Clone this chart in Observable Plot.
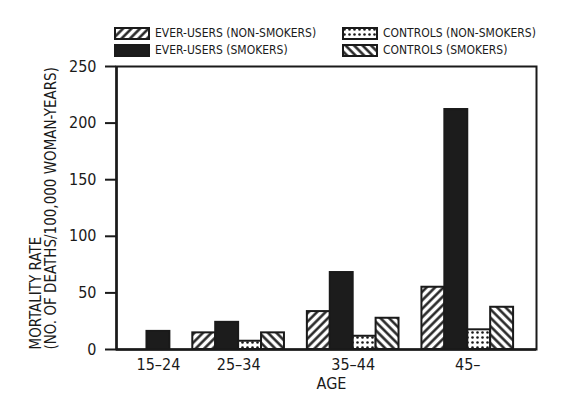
<!DOCTYPE html>
<html>
<head>
<meta charset="utf-8">
<script src="https://cdn.jsdelivr.net/npm/d3@7"></script>
<script src="https://cdn.jsdelivr.net/npm/@observablehq/plot@0.6"></script>
<style>
  body { margin: 0; background: #fff; font-family: "Liberation Sans Narrow", "DejaVu Sans Condensed", sans-serif; color: #1a1a1a; }
  #legend { position: relative; z-index: 1; width: 563px; height: 50px; }
  .item { position: absolute; display: flex; align-items: center; font-size: 12px; line-height: 13px; white-space: nowrap; }
  .item svg { margin-right: 5px; }
</style>
</head>
<body>
<svg width="0" height="0" style="position:absolute">
  <defs>
    <pattern id="hatchUp" patternUnits="userSpaceOnUse" width="6" height="6" patternTransform="rotate(45)">
      <rect width="6" height="6" fill="#fff"></rect>
      <line x1="1.5" y1="0" x2="1.5" y2="6" stroke="#1a1a1a" stroke-width="2.4"></line>
    </pattern>
    <pattern id="hatchDown" patternUnits="userSpaceOnUse" width="6" height="6" patternTransform="rotate(-45)">
      <rect width="6" height="6" fill="#fff"></rect>
      <line x1="1.5" y1="0" x2="1.5" y2="6" stroke="#1a1a1a" stroke-width="2.4"></line>
    </pattern>
    <pattern id="dots" patternUnits="userSpaceOnUse" width="5" height="5">
      <rect width="5" height="5" fill="#fff"></rect>
      <circle cx="2.5" cy="2.5" r="1.3" fill="#1a1a1a"></circle>
    </pattern>
  </defs>
</svg>
<div id="legend"></div>
<div id="chart"></div>
<script>
const ages = ["15–24", "25–34", "35–44", "45–"]
const series = ["EVER-USERS (NON-SMOKERS)", "EVER-USERS (SMOKERS)", "CONTROLS (NON-SMOKERS)", "CONTROLS (SMOKERS)"]
const everNonSmokers = [0, 14.7, 33.5, 55]
const everSmokers = [16, 24, 68, 212]
const controlNonSmokers = [0, 7.3, 11.7, 17.4]
const controlSmokers = [0, 14.7, 27.6, 37.3]
const yTicks = [0, 50, 100, 150, 200, 250]

const fills = ["url(#hatchUp)", "#1c1c1c", "url(#dots)", "url(#hatchDown)"]
const values = [everNonSmokers, everSmokers, controlNonSmokers, controlSmokers]

// bars sit side by side, zero bars are left out, one empty slot between groups
let slot = 0
const rows = []
const centers = []
ages.forEach((age, i) => {
  slot++
  const first = slot
  series.forEach((s, j) => {
    if (values[j][i] > 0) rows.push({age, series: s, value: values[j][i], slot: slot++})
  })
  centers.push((first + slot) / 2)
})
slot++
const xMin = -0.33
const ageAt = new Map(centers.map((c, i) => [c, ages[i]]))

// legend above the chart
const legendPos = [[114, 27], [114, 44], [342, 27], [342, 44]]
const legend = d3.select("#legend")
series.forEach((s, j) => {
  const item = legend.append("div").attr("class", "item")
    .style("left", legendPos[j][0] + "px").style("top", legendPos[j][1] + "px")
  item.append("svg").attr("width", 36).attr("height", 13)
    .append("rect").attr("x", 1).attr("y", 1).attr("width", 34).attr("height", 11)
    .attr("fill", fills[j]).attr("stroke", "#1a1a1a").attr("stroke-width", 2)
  item.append("span").text(s)
})

const chart = Plot.plot({
  width: 563,
  height: 363,
  marginLeft: 116,
  marginRight: 27,
  marginTop: 16,
  marginBottom: 64,
  style: {fontFamily: '"Liberation Sans Narrow", "DejaVu Sans Condensed", sans-serif', color: "#1a1a1a", background: "transparent"},
  x: {domain: [xMin, slot], axis: null},
  y: {domain: [0, 250], axis: null},
  color: {domain: series, range: fills},
  marks: [
    Plot.rectY(rows, {x1: "slot", x2: d => d.slot + 1, y: "value", fill: "series", stroke: "#1a1a1a", strokeWidth: 2}),
    Plot.frame({stroke: "#1a1a1a", strokeWidth: 2}),
    Plot.ruleY([0], {stroke: "#1a1a1a", strokeWidth: 2.5}),
    Plot.ruleX([xMin], {stroke: "#1a1a1a", strokeWidth: 2.5}),
    Plot.axisY({ticks: yTicks, tickSize: 11, tickPadding: 9, strokeWidth: 2, fontSize: 16, label: null}),
    Plot.axisX({ticks: centers, tickFormat: d => ageAt.get(d), tickSize: 0, tickPadding: 9, fontSize: 16, label: null}),
    Plot.text(["AGE"], {frameAnchor: "bottom", lineAnchor: "top", dx: 5, dy: 28, fontSize: 16}),
    Plot.text(["MORTALITY RATE\n(NO. OF DEATHS/100,000 WOMAN-YEARS)"], {
      frameAnchor: "bottom-left", rotate: -90, textAnchor: "start", lineAnchor: "top", dx: -87, fontSize: 15, lineHeight: 1.05
    })
  ]
})
document.getElementById("chart").append(chart)
</script>
</body>
</html>
